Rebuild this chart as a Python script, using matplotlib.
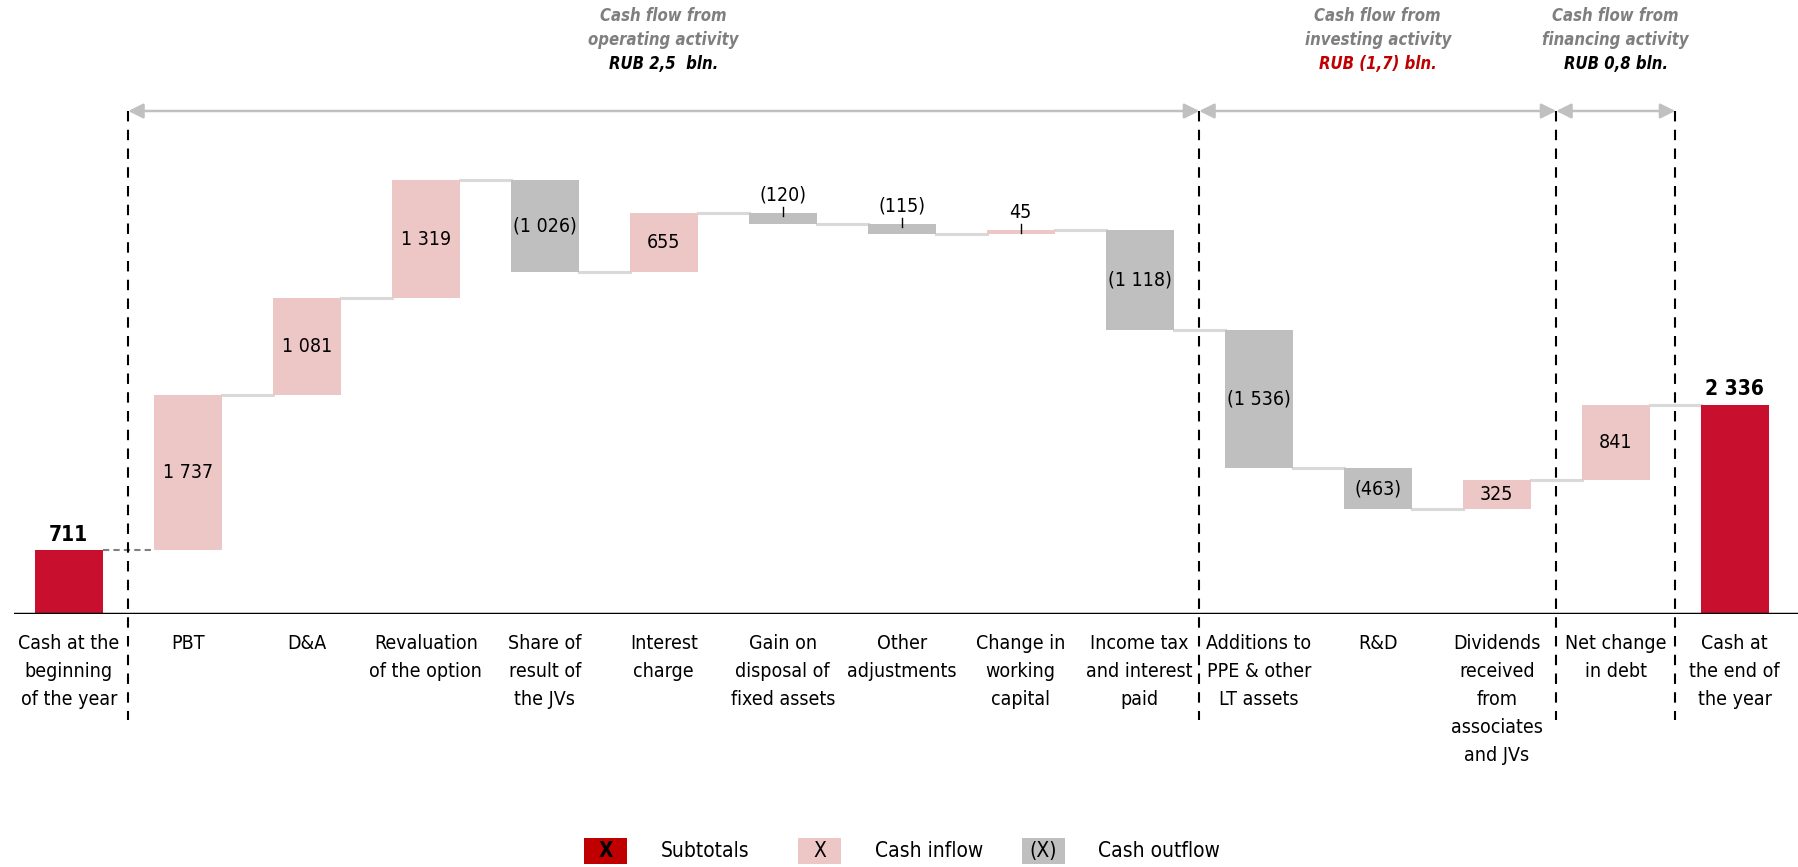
import matplotlib.pyplot as plt
import matplotlib.transforms as mtransforms
from matplotlib.patches import Rectangle
from matplotlib.lines import Line2D

# no Arial Narrow here, closest narrow face available
plt.rcParams['font.family'] = ['DejaVu Sans']
plt.rcParams['font.stretch'] = 'condensed'

# waterfall data
categories = ["Cash at the\nbeginning\nof the year", "PBT", "D&A", "Revaluation\nof the option",
              "Share of\nresult of\nthe JVs", "Interest\ncharge", "Gain on\ndisposal of\nfixed assets",
              "Other\nadjustments", "Change in\nworking\ncapital", "Income tax\nand interest\npaid",
              "Additions to\nPPE & other\nLT assets", "R&D",
              "Dividends\nreceived\nfrom\nassociates\nand JVs", "Net change\nin debt",
              "Cash at\nthe end of\nthe year"]
values = [711, 1737, 1081, 1319, -1026, 655, -120, -115, 45, -1118, -1536, -463, 325, 841, 2336]
kinds = ["total"] + ["flow"] * 13 + ["total"]

# sections: title, amount text, first / last category index
sec_titles = ["Cash flow from\noperating activity", "Cash flow from\ninvesting activity",
              "Cash flow from\nfinancing activity"]
sec_amounts = ["RUB 2,5  bln.", "RUB (1,7) bln.", "RUB 0,8 bln."]
sec_first = [1, 10, 13]
sec_last = [9, 12, 13]

RED = "#C8102E"
PINK = "#EDC6C6"
GRAY = "#BFBFBF"
W, H = 1799, 867
FS = 14
PX = 1 / 0.08952  # data units per pixel


def fmt(v):
    s = f"{abs(v):,}".replace(",", " ")
    return f"({s})" if v < 0 else s


fig = plt.figure(figsize=(W / 100, H / 100), dpi=100)
ax = fig.add_axes([14 / W, 253 / H, 1 - 14 / W, 614 / H])
ax.set_xlim(-0.46, 14.54)
ax.set_ylim(0, 614 * PX)
ax.axis("off")
trans = mtransforms.blended_transform_factory(ax.transData, fig.transFigure)

# bars
bottoms, heights, colors = [], [], []
running = 0
for v, k in zip(values, kinds):
    if k == "total":
        bottoms.append(0)
        heights.append(v)
        colors.append(RED)
        running = v
    else:
        bottoms.append(min(running, running + v))
        heights.append(abs(v))
        colors.append(PINK if v > 0 else GRAY)
        running += v
xs = list(range(len(values)))
bw = 0.57
ax.bar(xs, heights, bottom=bottoms, width=bw, color=colors, linewidth=0, zorder=2)

# connectors
levels = [b + h if (k == "total" or v > 0) else b for b, h, v, k in zip(bottoms, heights, values, kinds)]
for i in range(len(values) - 1):
    lvl = levels[i]
    if i == 0:
        ax.plot([i + bw / 2, i + 1 - bw / 2], [lvl, lvl], color="#808080", lw=1.5, ls=(0, (3, 2)), zorder=1)
    else:
        ax.plot([i + bw / 2, i + 1 - bw / 2], [lvl, lvl], color="#D9D9D9", lw=2.2, zorder=1)

ax.axhline(0, color="black", lw=2.5, zorder=3)

# value labels
for i, (v, k, b, h) in enumerate(zip(values, kinds, bottoms, heights)):
    if k == "total":
        ax.annotate(fmt(v), (i, b + h), xytext=(0, 4), textcoords="offset points",
                    ha="center", va="bottom", fontsize=FS + 1, fontweight="bold")
    elif abs(v) < 200:
        top = b + h
        ax.plot([i, i], [top - 3 * PX, top + 6 * PX], color="black", lw=1, zorder=4)
        ax.annotate(fmt(v), (i, top), xytext=(0, 6), textcoords="offset points",
                    ha="center", va="bottom", fontsize=FS)
    else:
        ax.text(i, b + h / 2, fmt(v), ha="center", va="center", fontsize=FS, zorder=4)

# category labels
for i, c in enumerate(categories):
    ax.text(i, (H - 634) / H, c, transform=trans, ha="center", va="top", fontsize=FS, linespacing=1.6)

# separators, arrows, section headers
arrow_y = (H - 111) / H
bounds = sorted(set([f - 0.5 for f in sec_first] + [l + 0.5 for l in sec_last]))
for bx in bounds:
    fig.add_artist(Line2D([bx, bx], [arrow_y, (H - 720) / H], transform=trans, color="black",
                          lw=1.5, ls=(0, (5, 4))))
for t, a, f, l in zip(sec_titles, sec_amounts, sec_first, sec_last):
    x0, x1 = f - 0.5, l + 0.5
    ax.annotate("", xy=(x1, arrow_y), xytext=(x0, arrow_y), xycoords=trans, textcoords=trans,
                arrowprops=dict(arrowstyle="<|-|>,head_length=0.9,head_width=0.45", color="#C0C0C0",
                                lw=1.8, shrinkA=0, shrinkB=0), annotation_clip=False)
    xc = (x0 + x1) / 2
    lines = t.split("\n")
    for txt, yy, col in [(lines[0], 16, "#7F7F7F"), (lines[1], 40, "#7F7F7F"),
                         (a, 64, "#C00000" if "(" in a else "black")]:
        ax.text(xc, (H - yy) / H, txt, transform=trans, ha="center", va="center", fontsize=12,
                fontweight="bold", style="italic", color=col)

# legend
leg = [("X", "Subtotals", "#C00000", "bold", 584, 661),
       ("X", "Cash inflow", PINK, "normal", 798, 875),
       ("(X)", "Cash outflow", GRAY, "normal", 1022, 1098)]
for sym, lab, col, wt, bx, tx in leg:
    fig.add_artist(Rectangle((bx / W, (H - 864) / H), 43 / W, 26 / H, transform=fig.transFigure,
                             color=col, lw=0))
    fig.text((bx + 21.5) / W, (H - 851) / H, sym, ha="center", va="center", fontsize=FS + 1, fontweight=wt)
    fig.text(tx / W, (H - 851) / H, lab, ha="left", va="center", fontsize=FS + 1)

fig.savefig("out.png", dpi=100)
